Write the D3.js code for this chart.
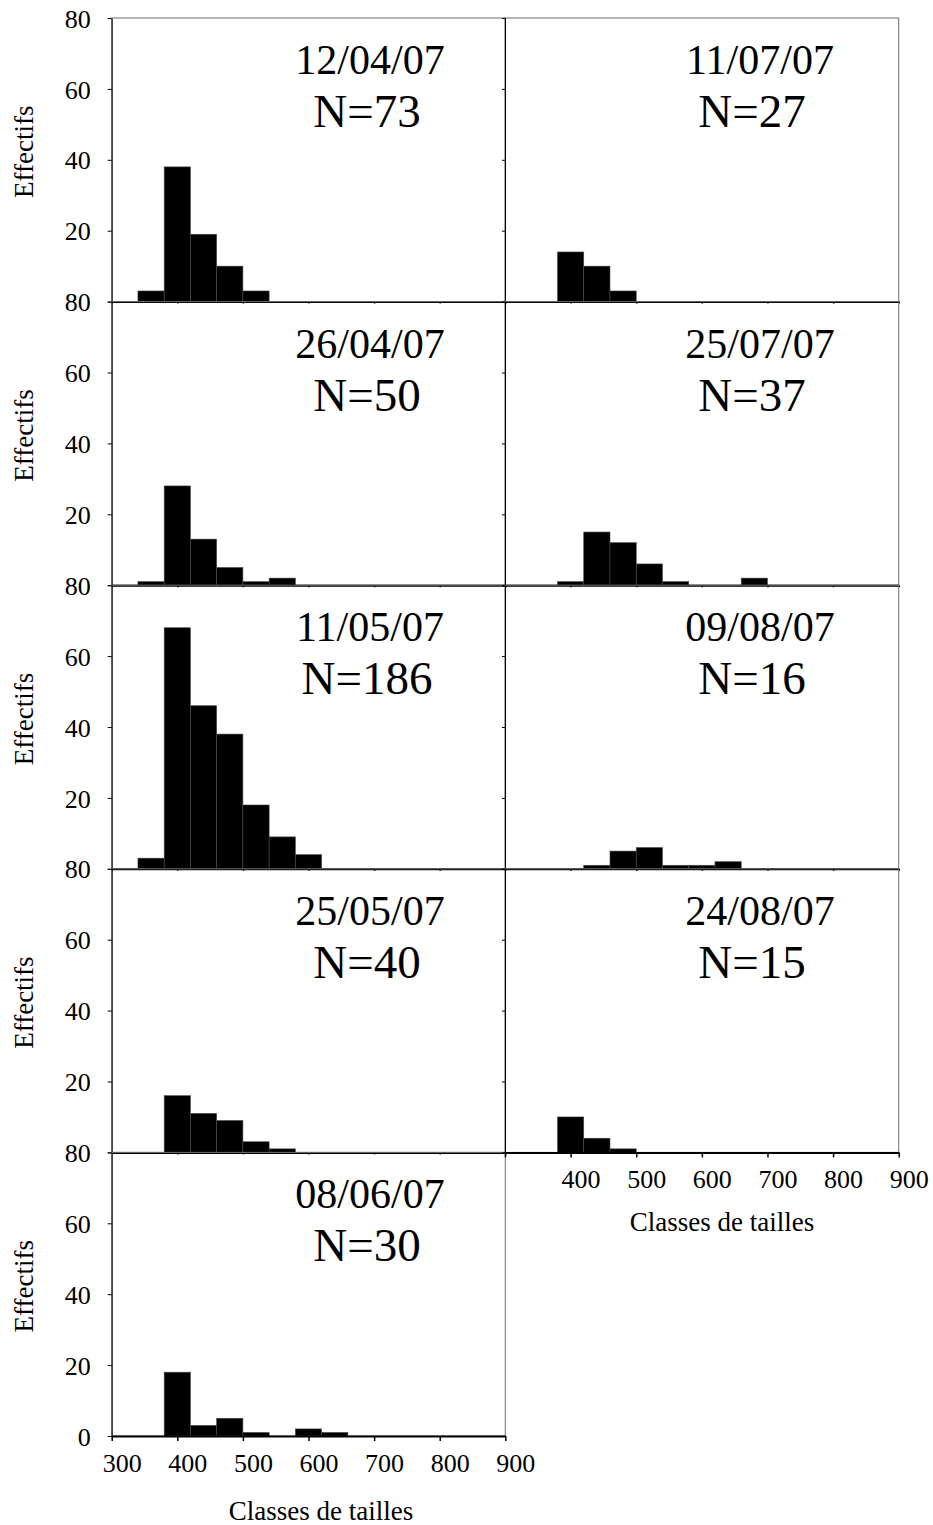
<!DOCTYPE html>
<html><head><meta charset="utf-8">
<script src="https://cdn.jsdelivr.net/npm/d3@7"></script>
<style>body{margin:0;background:#fff}</style>
</head><body><svg id="c" width="933" height="1525"></svg>
<script>
// ---- data ----
const binStarts = [340, 380, 420, 460, 500, 540, 580, 620, 660];
const binWidth = 40;
const xTicks = [300, 400, 500, 600, 700, 800, 900];
const yTicks = [0, 20, 40, 60, 80];

const leftDates = ["12/04/07", "26/04/07", "11/05/07", "25/05/07", "08/06/07"];
const leftN = [73, 50, 186, 40, 30];
const rightDates = ["11/07/07", "25/07/07", "09/08/07", "24/08/07"];
const rightN = [27, 37, 16, 15];

const counts120407 = [3, 38, 19, 10, 3, 0, 0, 0, 0];
const counts260407 = [1, 28, 13, 5, 1, 2, 0, 0, 0];
const counts110507 = [3, 68, 46, 38, 18, 9, 4, 0, 0];
const counts250507 = [0, 16, 11, 9, 3, 1, 0, 0, 0];
const counts080607 = [0, 18, 3, 5, 1, 0, 2, 1, 0];
const counts110707 = [0, 14, 10, 3, 0, 0, 0, 0, 0];
const counts250707 = [0, 1, 15, 12, 6, 1, 0, 0, 2];
const counts090807 = [0, 0, 1, 5, 6, 1, 1, 2, 0];
const counts240807 = [0, 10, 4, 1, 0, 0, 0, 0, 0];

const leftCounts = [counts120407, counts260407, counts110507, counts250507, counts080607];
const rightCounts = [counts110707, counts250707, counts090807, counts240807];

// ---- layout ----
const font = "'Liberation Serif','Times New Roman',serif";
const top0 = 18, panelH = 283.6;
const columns = [
  {x0: 111.7, x1: 505.3, dates: leftDates, ns: leftN, counts: leftCounts, showY: true, dateCx: 370, nCx: 367, titleCx: 321, titleDy: 84, firstLabel: 300},
  {x0: 505, x1: 898.7, dates: rightDates, ns: rightN, counts: rightCounts, showY: false, dateCx: 760, nCx: 752, titleCx: 722, titleDy: 79, firstLabel: 400}
];

const svg = d3.select("#c");

columns.forEach((col, ci) => {
  const nRows = col.counts.length;
  col.counts.forEach((cnt, r) => {
    const top = top0 + r * panelH, bottom = top + panelH;
    const isLast = r === nRows - 1;
    const x = d3.scaleLinear().domain([300, 900]).range([col.x0, col.x1]);
    const y = d3.scaleLinear().domain([0, 80]).range([bottom, top]);
    const g = svg.append("g");

    // plot frame
    g.append("rect")
      .attr("x", col.x0).attr("y", top)
      .attr("width", col.x1 - col.x0).attr("height", panelH)
      .attr("fill", "none").attr("stroke", "#6e6e6e").attr("stroke-width", 1);

    // bars
    const bins = binStarts.map((b, k) => ({b, v: cnt[k]})).filter(d => d.v > 0);
    g.selectAll("rect.bar").data(bins).enter().append("rect")
      .attr("class", "bar")
      .attr("x", d => x(d.b))
      .attr("width", d => x(d.b + binWidth) - x(d.b))
      .attr("y", d => y(d.v))
      .attr("height", d => y(0) - y(d.v))
      .attr("fill", "#000").attr("stroke", "#4a4a4a").attr("stroke-width", 0.6);

    // y axis
    const ya = g.append("g").attr("transform", `translate(${col.x0},0)`)
      .call(d3.axisLeft(y).tickValues(yTicks).tickSize(col.showY ? 4 : 3).tickSizeOuter(0)
        .tickFormat(d => (col.showY && (d !== 0 || isLast)) ? d : ""));
    ya.select(".domain").attr("stroke", "#000").attr("stroke-width", 1);
    ya.selectAll(".tick line").attr("stroke", "#000");
    ya.selectAll(".tick text").attr("x", -21).attr("dy", "0.35em")
      .attr("font-family", font).attr("font-size", 26).attr("fill", "#000");

    // x axis
    const xa = g.append("g").attr("transform", `translate(0,${bottom})`)
      .call(d3.axisBottom(x).tickValues(xTicks).tickSize(isLast ? 5 : 2).tickSizeOuter(0)
        .tickFormat(d => (isLast && d >= col.firstLabel) ? d : ""));
    xa.select(".domain").attr("stroke", "#000").attr("stroke-width", 2);
    xa.selectAll(".tick line").attr("stroke", "#000").attr("stroke-width", 1.5);
    xa.selectAll(".tick text").attr("y", 0).attr("dy", 36).attr("dx", 10)
      .attr("font-family", font).attr("font-size", 26).attr("fill", "#000");

    // date and N labels
    g.append("text").attr("x", col.dateCx).attr("y", top + 56)
      .attr("text-anchor", "middle").attr("font-family", font).attr("font-size", 42)
      .text(col.dates[r]);
    g.append("text").attr("x", col.nCx).attr("y", top + 109)
      .attr("text-anchor", "middle").attr("font-family", font).attr("font-size", 47)
      .text("N=" + col.ns[r]);

    // y title
    if (col.showY) {
      g.append("text")
        .attr("transform", `translate(33,${top + panelH / 2 - 8}) rotate(-90)`)
        .attr("text-anchor", "middle").attr("font-family", font).attr("font-size", 27)
        .text("Effectifs");
    }
    // x title
    if (isLast) {
      g.append("text").attr("x", col.titleCx).attr("y", bottom + col.titleDy)
        .attr("text-anchor", "middle").attr("font-family", font).attr("font-size", 27)
        .text("Classes de tailles");
    }
  });
});
</script>
</body></html>
